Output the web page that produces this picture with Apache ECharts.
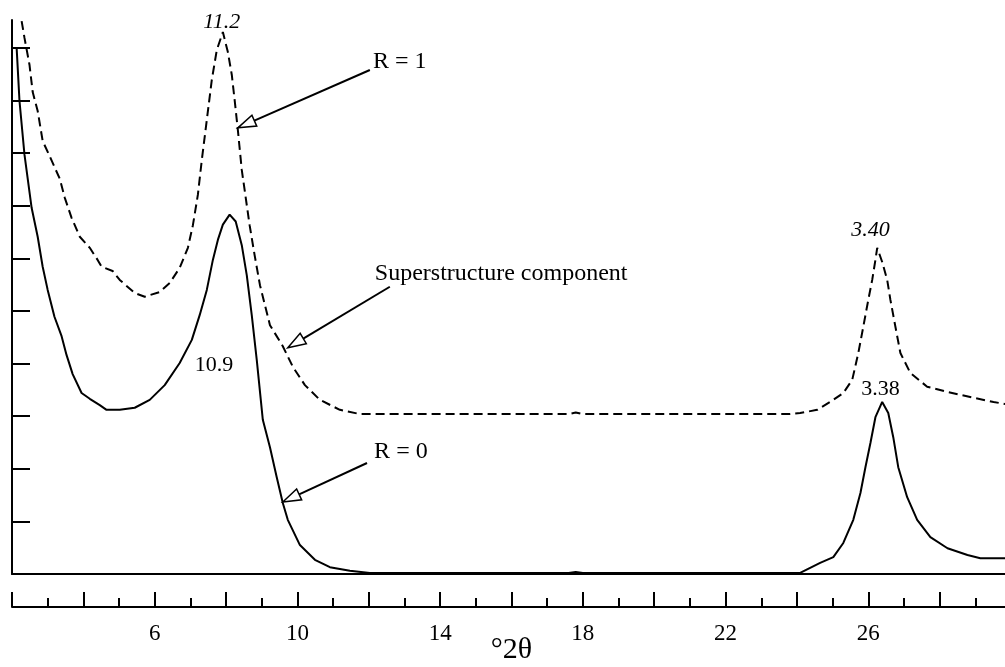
<!DOCTYPE html>
<html>
<head>
<meta charset="utf-8">
<script src="https://cdn.jsdelivr.net/npm/echarts@6/dist/echarts.min.js"></script>
<style>
html,body{margin:0;padding:0;background:#fff;}
#chart{width:1005px;height:667px;}
</style>
</head>
<body>
<div id="chart"></div>
<script>
// Solid trace (R = 0): 2θ in degrees and intensity (axis tick units)
const r0X = [2.13,2.21,2.35,2.55,2.72,2.86,3.00,3.19,3.39,3.53,3.70,3.95,4.18,4.46,4.65,5.02,5.44,5.86,6.28,6.70,7.04,7.26,7.46,7.63,7.77,7.91,8.10,8.27,8.44,8.58,8.72,8.86,9.03,9.23,9.42,9.59,9.73,10.07,10.49,10.91,11.47,12.03,15.0,17.6,17.8,18.0,21.0,24.09,24.65,25.02,25.30,25.58,25.78,25.92,26.06,26.20,26.39,26.56,26.70,26.84,27.09,27.37,27.74,28.22,28.78,29.14,29.84,30];
const r0Y = [10.0,8.99,7.97,6.96,6.41,5.84,5.40,4.89,4.52,4.16,3.80,3.44,3.33,3.21,3.12,3.12,3.16,3.31,3.59,4.01,4.45,4.92,5.40,5.97,6.35,6.64,6.83,6.70,6.25,5.68,4.92,4.07,2.93,2.41,1.84,1.35,1.03,0.55,0.27,0.13,0.06,0.02,0.02,0.02,0.04,0.02,0.02,0.02,0.21,0.32,0.59,1.03,1.54,2.03,2.49,2.98,3.27,3.06,2.60,2.03,1.46,1.03,0.70,0.49,0.36,0.30,0.30,0.30];

// Dashed trace (R = 1)
const r1X = [2.27,2.35,2.49,2.58,2.72,2.86,3.05,3.34,3.48,3.67,3.90,4.18,4.40,4.51,4.82,5.02,5.44,5.72,6.14,6.42,6.70,6.93,7.07,7.21,7.32,7.46,7.60,7.74,7.91,8.05,8.16,8.24,8.33,8.44,8.52,8.66,8.80,8.95,9.09,9.23,9.59,9.87,10.21,10.63,11.19,11.75,14.0,17.6,17.8,18.0,21.0,23.81,24.09,24.57,25.02,25.30,25.55,25.72,25.86,26.00,26.11,26.20,26.25,26.39,26.53,26.62,26.76,26.90,27.18,27.65,28.22,28.95,29.51,29.84,30];
const r1Y = [10.51,10.19,9.68,9.16,8.80,8.23,7.95,7.51,7.15,6.77,6.41,6.20,5.97,5.84,5.76,5.59,5.34,5.27,5.36,5.53,5.82,6.20,6.63,7.21,7.87,8.63,9.39,9.96,10.30,9.92,9.49,9.01,8.44,7.68,7.30,6.63,6.06,5.49,5.11,4.73,4.33,3.94,3.59,3.31,3.12,3.04,3.04,3.04,3.07,3.04,3.04,3.04,3.06,3.12,3.31,3.44,3.69,4.20,4.70,5.21,5.59,5.97,6.20,5.93,5.59,5.21,4.70,4.20,3.82,3.56,3.46,3.35,3.27,3.23,3.22];

// Axis tick values / labels
const xLabelValues = [6,10,14,18,22,26];
const yTickValues = [1,2,3,4,5,6,7,8,9,10];
const xAxisTitle = '°2θ';

// Annotations (data coordinates)
const noteTexts = ['R = 1','Superstructure component','R = 0'];
const notePos = [[12.87,9.73],[15.71,5.70],[12.90,2.32]];
const arrowStart = [[12.03,9.58],[12.59,5.46],[11.95,2.11]];
const arrowTip = [[8.33,8.48],[9.73,4.30],[9.59,1.37]];
const peakTexts = ['11.2','10.9','3.40','3.38'];
const peakPos = [[7.88,10.48],[7.66,3.97],[26.06,6.54],[26.34,3.52]];
const peakItalic = [true,false,true,false];

const FONT = '"Liberation Serif","Times New Roman",serif';
const zip = (a,b) => a.map((v,i)=>[v,b[i]]);

const chart = echarts.init(document.getElementById('chart'));
chart.setOption({
  animation:false,
  backgroundColor:'#fff',
  grid:{left:12,right:-6,top:20,bottom:93,outerBoundsMode:'none',containLabel:false},
  xAxis:[
    {type:'value',min:2,max:30,position:'bottom',
     axisLine:{show:true,onZero:false,lineStyle:{color:'#000',width:2}},
     axisTick:{show:false},axisLabel:{show:false},splitLine:{show:false}},
    {type:'value',min:2,max:30,interval:2,position:'bottom',offset:33,
     axisLine:{show:true,onZero:false,lineStyle:{color:'#000',width:2}},
     axisTick:{show:true,inside:true,length:15,lineStyle:{color:'#000',width:2}},
     minorTick:{show:true,splitNumber:2,length:9,lineStyle:{color:'#000',width:2}},
     axisLabel:{show:true,margin:15,color:'#000',fontFamily:FONT,fontSize:23,
       formatter:(v)=> xLabelValues.indexOf(v)>=0 ? String(v) : ''},
     splitLine:{show:false},minorSplitLine:{show:false},
     name:xAxisTitle,nameLocation:'middle',nameGap:28,nameMoveOverlap:false,
     nameTextStyle:{color:'#000',fontFamily:FONT,fontSize:30}}
  ],
  yAxis:{type:'value',min:0,max:10.53,
    axisLine:{show:true,onZero:false,lineStyle:{color:'#000',width:2}},
    axisTick:{show:true,inside:true,length:18,customValues:yTickValues,lineStyle:{color:'#000',width:2}},
    axisLabel:{show:false},splitLine:{show:false}},
  series:[
    {type:'line',name:'R = 0',xAxisIndex:0,data:zip(r0X,r0Y),showSymbol:false,symbol:'none',
     lineStyle:{color:'#000',width:2},z:3},
    {type:'line',name:'R = 1',xAxisIndex:0,data:zip(r1X,r1Y),showSymbol:false,symbol:'none',
     lineStyle:{color:'#000',width:2,type:[9,5]},z:3},
    {type:'custom',xAxisIndex:0,data:arrowStart,encode:{x:0,y:1},z:5,clip:false,
     renderItem:function(params,api){
       const s = api.coord([api.value(0),api.value(1)]);
       const t = api.coord(arrowTip[params.dataIndex]);
       const dx=t[0]-s[0], dy=t[1]-s[1], len=Math.hypot(dx,dy);
       const ux=dx/len, uy=dy/len, nx=-uy, ny=ux;
       const L=18, W=6;
       const bx=t[0]-ux*L, by=t[1]-uy*L;
       return {type:'group',children:[
         {type:'line',shape:{x1:s[0],y1:s[1],x2:bx,y2:by},style:{stroke:'#000',lineWidth:2}},
         {type:'polygon',shape:{points:[[t[0],t[1]],[bx+nx*W,by+ny*W],[bx-nx*W,by-ny*W]]},
          style:{fill:'#fff',stroke:'#000',lineWidth:1.5}}
       ]};
     }},
    {type:'custom',xAxisIndex:0,data:notePos,encode:{x:0,y:1},z:6,clip:false,
     renderItem:function(params,api){
       const p = api.coord([api.value(0),api.value(1)]);
       return {type:'text',x:p[0],y:p[1],style:{text:noteTexts[params.dataIndex],fill:'#000',
         fontFamily:FONT,fontSize:24,align:'center',verticalAlign:'middle'}};
     }},
    {type:'custom',xAxisIndex:0,data:peakPos,encode:{x:0,y:1},z:6,clip:false,
     renderItem:function(params,api){
       const p = api.coord([api.value(0),api.value(1)]);
       return {type:'text',x:p[0],y:p[1],style:{text:peakTexts[params.dataIndex],fill:'#000',
         fontFamily:FONT,fontSize:22,fontStyle:peakItalic[params.dataIndex]?'italic':'normal',
         align:'center',verticalAlign:'middle'}};
     }}
  ]
});
</script>
</body>
</html>
